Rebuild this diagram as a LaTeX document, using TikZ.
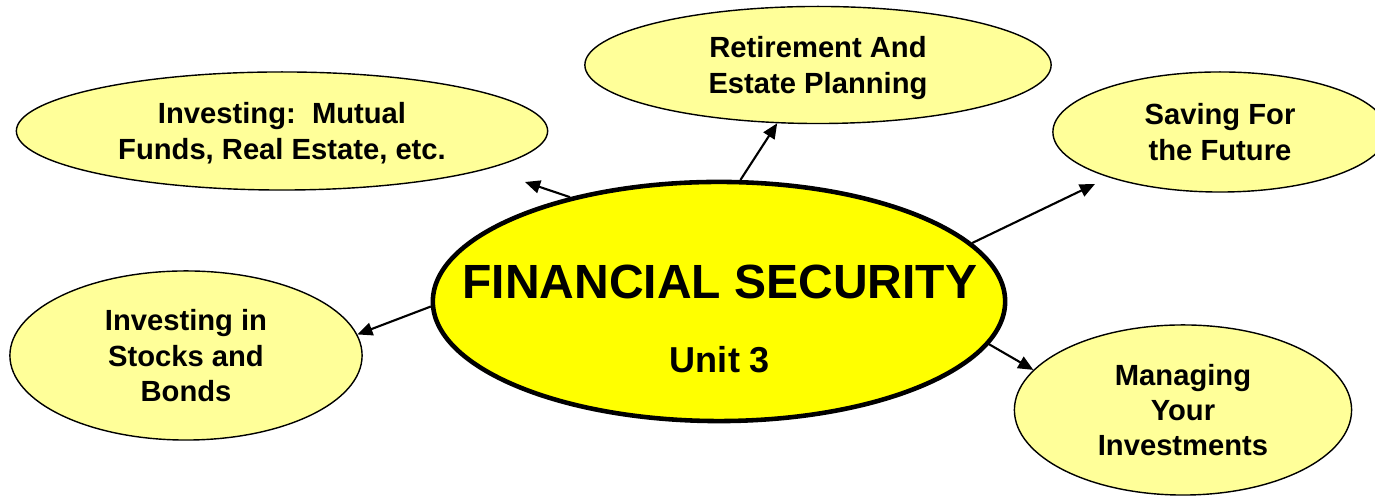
\documentclass[tikz,border=0pt]{standalone}
\usepackage{fontspec}
\setmainfont{Liberation Sans}
\usetikzlibrary{arrows.meta,shapes.geometric}

\definecolor{hubyellow}{HTML}{FFFF00}
\definecolor{paleyellow}{HTML}{FFFF99}

\begin{document}
\begin{tikzpicture}[x=0.01cm,y=-0.01cm,
		>={Triangle[length=4.3pt,width=3.7pt]},
		topic/.style={ellipse,draw,line width=0.4pt,fill=paleyellow,inner sep=0pt,
			align=center,text depth=0pt,font=\bfseries\fontsize{8.3}{10}\selectfont},
		hub/.style={ellipse,draw,line width=1.3pt,fill=hubyellow,inner sep=0pt},
		hubtext/.style={inner sep=0pt,text depth=0pt,font=\bfseries\fontsize{#1}{#1}\selectfont},
		link/.style={->,line width=0.6pt}]
		\useasboundingbox (0,0) rectangle (1375,498);
		\clip (0,0) rectangle (1375,498);

		\node[hub,minimum width=5.72cm,minimum height=2.39cm] (fin) at (719,301.5) {};
		\node[hubtext=13.65] (head) at (720,281.5) {FINANCIAL SECURITY};
		\node[hubtext=10.25] (unit) at (720,359) {Unit 3};

		\node[topic,minimum width=4.66cm,minimum height=1.17cm] (ret) at (818,65) {Retirement And\\Estate Planning};
		\node[topic,minimum width=5.31cm,minimum height=1.18cm] (mut) at (282,131) {Investing:\ \ Mutual\\Funds, Real Estate, etc.};
		\node[topic,minimum width=3.34cm,minimum height=1.2cm] (sav) at (1220,132) {Saving For\\the Future};
		\node[topic,minimum width=3.52cm,minimum height=1.69cm] (sto) at (186,355.5) {Investing in\\Stocks and\\Bonds};
		\node[topic,minimum width=3.37cm,minimum height=1.7cm] (man) at (1183,410) {Managing\\Your\\Investments};

		\coordinate (mutend) at (525,182);
		\coordinate (savend) at (1095,184);

		\draw[link] (fin.80) to (ret.-125);
		\draw[link] (fin.145) to (mutend);
		\draw[link] (fin.13) to (savend);
		\draw[link] (fin.181) to (sto.7);
		\draw[link] (fin.-9) to (man.165);
\end{tikzpicture}
\end{document}
